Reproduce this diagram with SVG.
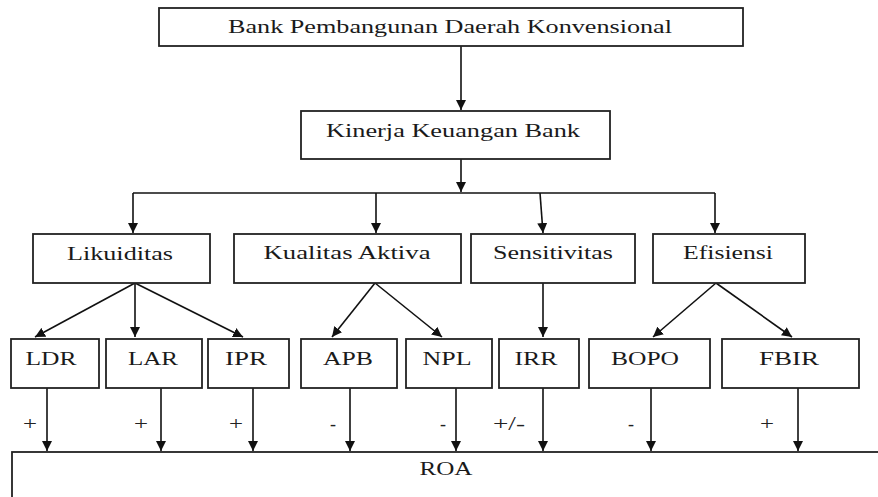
<svg xmlns="http://www.w3.org/2000/svg" width="878" height="497" viewBox="0 0 878 497">
<defs>
<marker id="ah" markerUnits="userSpaceOnUse" markerWidth="10" markerHeight="10" refX="10" refY="5" orient="auto">
<path d="M0,0 L10,5 L0,10 z" fill="#111"/>
</marker>
<style>
.box{fill:#fff;stroke:#222;stroke-width:1.8}
.t{font-family:"Liberation Serif","Times New Roman",serif;font-size:18px;fill:#1a1a1a;text-anchor:middle}
.s{font-family:"Liberation Serif","Times New Roman",serif;font-size:18px;fill:#222;text-anchor:middle}
.c{fill:none;stroke:#111;stroke-width:1.6}
.a{fill:none;stroke:#111;stroke-width:1.6;marker-end:url(#ah)}
</style>
</defs>
<rect width="878" height="497" fill="#fff"/>

<g id="connectors">
<line class="a" x1="461" y1="46" x2="461" y2="110"/>
<line class="a" x1="461" y1="159" x2="461" y2="192"/>
<polyline class="c" points="133,193 715,193"/>
<line class="a" x1="133" y1="193" x2="133" y2="233"/>
<line class="a" x1="376" y1="193" x2="376" y2="233"/>
<line class="a" x1="540" y1="193" x2="543" y2="233"/>
<line class="a" x1="715" y1="193" x2="715" y2="233"/>
<line class="a" x1="135" y1="283" x2="35" y2="337"/>
<line class="a" x1="135" y1="283" x2="135" y2="337"/>
<line class="a" x1="135" y1="283" x2="243" y2="337"/>
<line class="a" x1="375" y1="283" x2="332" y2="337"/>
<line class="a" x1="375" y1="283" x2="442" y2="337"/>
<line class="a" x1="543" y1="283" x2="543" y2="337"/>
<line class="a" x1="716" y1="283" x2="653" y2="337"/>
<line class="a" x1="716" y1="283" x2="792" y2="337"/>
<line class="a" x1="47" y1="388" x2="47" y2="451"/>
<line class="a" x1="161" y1="388" x2="161" y2="451"/>
<line class="a" x1="253" y1="388" x2="253" y2="451"/>
<line class="a" x1="350" y1="388" x2="350" y2="451"/>
<line class="a" x1="456" y1="388" x2="456" y2="451"/>
<line class="a" x1="543" y1="388" x2="543" y2="451"/>
<line class="a" x1="651" y1="388" x2="651" y2="451"/>
<line class="a" x1="798" y1="388" x2="798" y2="451"/>
<text class="s" x="30" y="430" textLength="14" lengthAdjust="spacingAndGlyphs">+</text>
<text class="s" x="141" y="430" textLength="14" lengthAdjust="spacingAndGlyphs">+</text>
<text class="s" x="236" y="430" textLength="14" lengthAdjust="spacingAndGlyphs">+</text>
<text class="s" x="333" y="430">-</text>
<text class="s" x="443" y="430">-</text>
<text class="s" x="509" y="430" textLength="32" lengthAdjust="spacingAndGlyphs">+/-</text>
<text class="s" x="631" y="430">-</text>
<text class="s" x="767" y="430" textLength="14" lengthAdjust="spacingAndGlyphs">+</text>
</g>

<g id="n-bpd">
<rect class="box" x="159" y="8" width="584" height="38"/>
<text class="t" x="450" y="33" textLength="444" lengthAdjust="spacingAndGlyphs">Bank Pembangunan  Daerah  Konvensional</text>
</g>
<g id="n-kinerja">
<rect class="box" x="301" y="111" width="309" height="48"/>
<text class="t" x="453" y="137" textLength="254" lengthAdjust="spacingAndGlyphs">Kinerja  Keuangan  Bank</text>
</g>
<g id="n-likuiditas">
<rect class="box" x="33" y="234" width="177" height="49"/>
<text class="t" x="120" y="260" textLength="106" lengthAdjust="spacingAndGlyphs">Likuiditas</text>
</g>
<g id="n-kualitas">
<rect class="box" x="234" y="234" width="227" height="49"/>
<text class="t" x="347" y="259" textLength="167" lengthAdjust="spacingAndGlyphs">Kualitas  Aktiva</text>
</g>
<g id="n-sensitivitas">
<rect class="box" x="471" y="234" width="164" height="49"/>
<text class="t" x="553" y="259" textLength="120" lengthAdjust="spacingAndGlyphs">Sensitivitas</text>
</g>
<g id="n-efisiensi">
<rect class="box" x="653" y="234" width="152" height="49"/>
<text class="t" x="728" y="259" textLength="90" lengthAdjust="spacingAndGlyphs">Efisiensi</text>
</g>
<g id="n-ldr">
<rect class="box" x="11" y="339" width="88" height="49"/>
<text class="t" x="51" y="365" textLength="51" lengthAdjust="spacingAndGlyphs">LDR</text>
</g>
<g id="n-lar">
<rect class="box" x="106" y="339" width="96" height="49"/>
<text class="t" x="153" y="365" textLength="50" lengthAdjust="spacingAndGlyphs">LAR</text>
</g>
<g id="n-ipr">
<rect class="box" x="208" y="339" width="81" height="49"/>
<text class="t" x="246" y="365" textLength="42" lengthAdjust="spacingAndGlyphs">IPR</text>
</g>
<g id="n-apb">
<rect class="box" x="301" y="339" width="96" height="49"/>
<text class="t" x="348" y="365" textLength="50" lengthAdjust="spacingAndGlyphs">APB</text>
</g>
<g id="n-npl">
<rect class="box" x="406" y="339" width="86" height="49"/>
<text class="t" x="447" y="365" textLength="49" lengthAdjust="spacingAndGlyphs">NPL</text>
</g>
<g id="n-irr">
<rect class="box" x="499" y="339" width="80" height="49"/>
<text class="t" x="536" y="365" textLength="43" lengthAdjust="spacingAndGlyphs">IRR</text>
</g>
<g id="n-bopo">
<rect class="box" x="589" y="339" width="121" height="49"/>
<text class="t" x="645" y="365" textLength="68" lengthAdjust="spacingAndGlyphs">BOPO</text>
</g>
<g id="n-fbir">
<rect class="box" x="722" y="339" width="137" height="49"/>
<text class="t" x="789" y="365" textLength="60" lengthAdjust="spacingAndGlyphs">FBIR</text>
</g>
<g id="n-roa">
<rect class="box" x="12" y="452" width="880" height="60"/>
<text class="t" x="446" y="475" textLength="53" lengthAdjust="spacingAndGlyphs">ROA</text>
</g>
</svg>
